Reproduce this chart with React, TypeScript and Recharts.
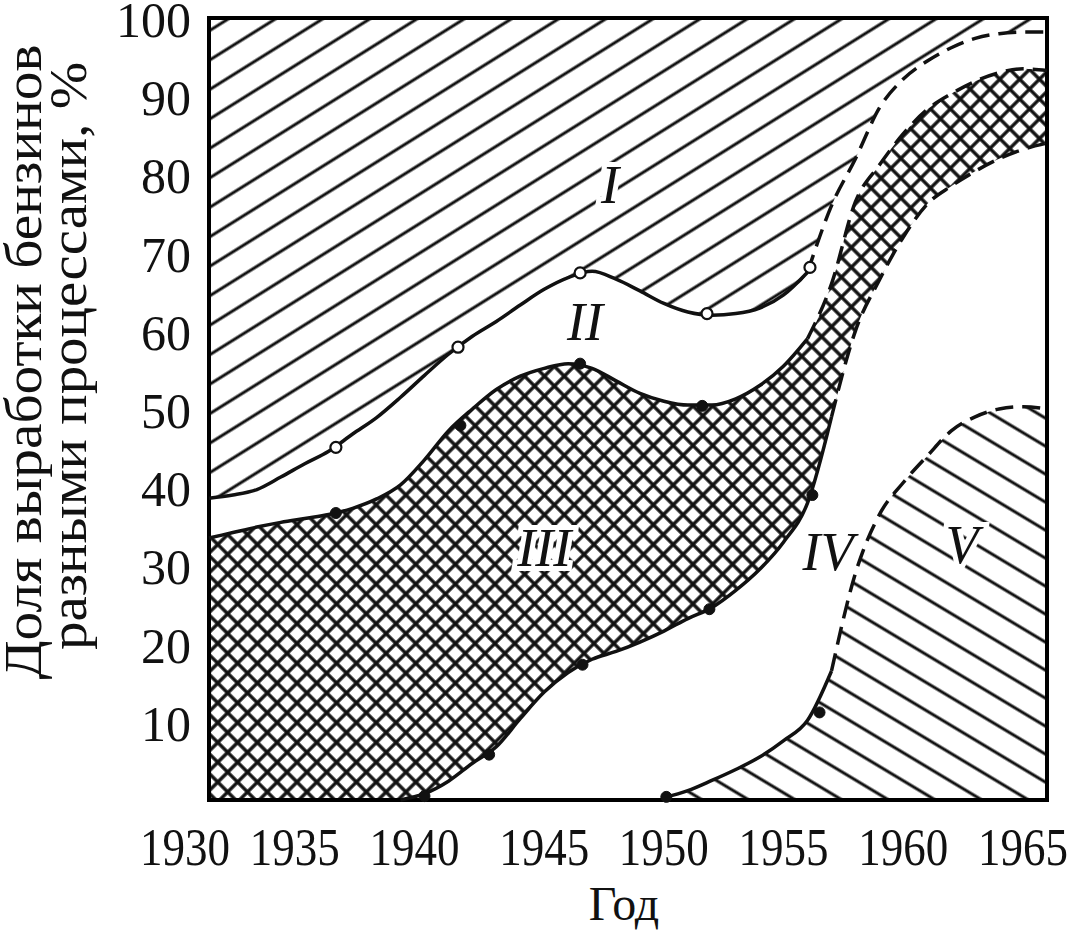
import {
  ComposedChart,
  Area,
  Line,
  Scatter,
  XAxis,
  YAxis,
  ReferenceArea,
  ReferenceDot,
} from "recharts";

// годы по оси X
const years = [
  1930, 1931, 1932, 1933, 1934, 1935, 1936, 1937, 1938, 1939, 1940, 1941,
  1942, 1943, 1944, 1945, 1946, 1947, 1948, 1949, 1950, 1951, 1952, 1953,
  1954, 1955, 1956, 1957, 1958, 1959, 1960, 1961, 1962, 1963, 1964, 1965,
];

// граница I / II
const curveA = [
  38.6, 39, 39.7, 41.3, 43, 44.6, 46.8, 48.9, 51.5, 54.3, 57, 59.3, 61.2,
  63.3, 65.3, 66.8, 67.6, 66.6, 65.1, 63.5, 62.4, 62, 62.2, 62.9, 64.6, 67.5,
  76, 82, 88.5, 92.2, 94.5, 96.2, 97.4, 98, 98.2, 98.2,
];
// граница II / III
const curveB = [
  33.5, 34.2, 34.9, 35.5, 36, 36.5, 37.3, 38.5, 40.3, 43.5, 47.2, 50, 52.5,
  54.2, 55.2, 55.8, 55.2, 53.6, 52, 51, 50.5, 50.5, 51.3, 53, 55.5, 59, 66,
  76.5, 81.2, 85.2, 88.3, 90.3, 91.9, 93, 93.5, 93.3,
];
// граница III / IV
const curveC = [
  0, 0, 0, 0, 0, 0, 0, 0, 0, 0.8, 2.4, 4.7, 6.8, 10.4, 13.8, 16.3, 18, 19,
  20.2, 21.6, 23.2, 24.6, 26.8, 29.5, 33, 38, 49, 60, 66.5, 72, 76.2, 78.5,
  80.4, 82, 83.2, 84,
];
// граница IV / V
const curveD = [
  0, 0, 0, 0, 0, 0, 0, 0, 0, 0, 0, 0, 0, 0, 0, 0, 0, 0, 0, 0.3, 1.2, 2.5,
  3.9, 5.5, 7.6, 10.2, 16.5, 29, 36.5, 40.6, 44, 47.2, 49, 50, 50.3, 50,
];

// точки на кривых
const markersA = [
  { year: 1935.3, value: 45.1 },
  { year: 1940.4, value: 57.9 },
  { year: 1945.5, value: 67.4 },
  { year: 1950.8, value: 62.2 },
  { year: 1955.1, value: 68.1 },
];
const markersB = [
  { year: 1935.3, value: 36.7 },
  { year: 1940.5, value: 47.9 },
  { year: 1945.5, value: 55.8 },
  { year: 1950.6, value: 50.4 },
];
const markersC = [
  { year: 1939.0, value: 0.5 },
  { year: 1941.7, value: 5.8 },
  { year: 1945.6, value: 17.3 },
  { year: 1950.9, value: 24.4 },
  { year: 1955.2, value: 39 },
];
const markersD = [
  { year: 1949.1, value: 0.4 },
  { year: 1955.5, value: 11.2 },
];

const regionLabels = [
  { text: "I", year: 1946.75, value: 78.6 },
  { text: "II", year: 1945.7, value: 61.1 },
  { text: "III", year: 1944.0, value: 32.2 },
  { text: "IV", year: 1955.85, value: 31.7 },
  { text: "V", year: 1961.45, value: 32.6 },
];

const xTicks = [1930, 1935, 1940, 1945, 1950, 1955, 1960, 1965];
const yTicks = [10, 20, 30, 40, 50, 60, 70, 80, 90, 100];

// где сплошная линия переходит в пунктир
const dashFromA = 1955;
const dashFromB = 1955;
const dashFromC = 1956;
const dashFromD = 1956;
const startC = 1938;
const startD = 1949;

const rows = years.map((year, i) => ({
  year,
  regionI: [curveA[i], 100],
  regionIII: [curveC[i], curveB[i]],
  regionV: [0, curveD[i]],
  aSolid: year <= dashFromA ? curveA[i] : null,
  aDash: year >= dashFromA ? curveA[i] : null,
  bSolid: year <= dashFromB ? curveB[i] : null,
  bDash: year >= dashFromB ? curveB[i] : null,
  cSolid: year >= startC && year <= dashFromC ? curveC[i] : null,
  cDash: year >= dashFromC ? curveC[i] : null,
  dSolid: year >= startD && year <= dashFromD ? curveD[i] : null,
  dDash: year >= dashFromD ? curveD[i] : null,
}));

const SERIF = "'Liberation Serif', 'Times New Roman', serif";
const INK = "#111";

// подписи на оси X в оригинале сдвинуты влево от делений
const XTick = ({ x, y, payload }: any) => {
  const early = payload.value === 1935 || payload.value === 1940;
  return (
    <text
      x={x - (early ? 34 : 24) - 45}
      y={y + 57}
      fontFamily={SERIF}
      fontSize={52}
      fill={INK}
      textLength={90}
      lengthAdjust="spacingAndGlyphs"
    >
      {payload.value}
    </text>
  );
};

const YTick = ({ x, y, payload }: any) => (
  <text
    x={x - 10}
    y={y + 19}
    textAnchor="end"
    fontFamily={SERIF}
    fontSize={50}
    fill={INK}
  >
    {payload.value}
  </text>
);

const YTitle = () => (
  <g fontFamily={SERIF} fontSize={53} fill={INK}>
    <text
      transform="translate(41, 362) rotate(-90)"
      textAnchor="middle"
      textLength={635}
      lengthAdjust="spacingAndGlyphs"
    >
      Доля выработки бензинов
    </text>
    <text
      transform="translate(86, 356) rotate(-90)"
      textAnchor="middle"
      textLength={588}
      lengthAdjust="spacingAndGlyphs"
    >
      разными процессами, %
    </text>
  </g>
);

const XTitle = () => (
  <text
    x={624}
    y={920}
    textAnchor="middle"
    fontFamily={SERIF}
    fontSize={48}
    fill={INK}
  >
    Год
  </text>
);

const OpenDot = ({ cx, cy }: any) => (
  <circle cx={cx} cy={cy} r={5.5} fill="#fff" stroke={INK} strokeWidth={2.2} />
);
const FilledDot = ({ cx, cy }: any) => (
  <circle cx={cx} cy={cy} r={5.5} fill={INK} stroke={INK} strokeWidth={1} />
);

const RomanLabel = (text: string) => (props: any) => {
  const { x, y } = props.viewBox;
  return (
    <text
      x={x}
      y={y}
      textAnchor="middle"
      dominantBaseline="central"
      fontFamily={SERIF}
      fontStyle="italic"
      fontSize={54}
      fill={INK}
      stroke="#fff"
      strokeWidth={10}
      paintOrder="stroke"
    >
      {text}
    </text>
  );
};

const App = () => {
  return (
    <div style={{ position: "absolute", left: 0, top: 0, background: "#fff" }}>
      <ComposedChart
        width={1082}
        height={931}
        data={rows}
        margin={{ top: 18, right: 35, bottom: 0, left: 0 }}
      >
        <defs>
          <pattern
            id="hatchI"
            patternUnits="userSpaceOnUse"
            width={25}
            height={25}
            patternTransform="rotate(-32)"
          >
            <line x1={0} y1={12} x2={25} y2={12} stroke={INK} strokeWidth={3} />
          </pattern>
          <pattern
            id="hatchV"
            patternUnits="userSpaceOnUse"
            width={24}
            height={24}
            patternTransform="rotate(31)"
          >
            <line x1={0} y1={12} x2={24} y2={12} stroke={INK} strokeWidth={3} />
          </pattern>
          <pattern
            id="cross"
            patternUnits="userSpaceOnUse"
            width={14}
            height={14}
            patternTransform="rotate(45)"
          >
            <line x1={0} y1={7} x2={14} y2={7} stroke={INK} strokeWidth={3.4} />
            <line x1={7} y1={0} x2={7} y2={14} stroke={INK} strokeWidth={3.4} />
          </pattern>
        </defs>

        <XAxis
          dataKey="year"
          type="number"
          domain={[1930, 1965]}
          ticks={xTicks}
          interval={0}
          axisLine={false}
          tickLine={false}
          height={131}
          tick={(p: any) => <XTick {...p} />}
          label={{ content: () => <XTitle /> }}
        />
        <YAxis
          type="number"
          domain={[0, 100]}
          ticks={yTicks}
          interval={0}
          axisLine={false}
          tickLine={false}
          width={209}
          tick={(p: any) => <YTick {...p} />}
          label={{ content: () => <YTitle /> }}
        />

        <Area
          type="monotone"
          dataKey="regionI"
          fill="url(#hatchI)"
          fillOpacity={1}
          stroke="none"
          isAnimationActive={false}
        />
        <Area
          type="monotone"
          dataKey="regionIII"
          fill="url(#cross)"
          fillOpacity={1}
          stroke="none"
          isAnimationActive={false}
        />
        <Area
          type="monotone"
          dataKey="regionV"
          fill="url(#hatchV)"
          fillOpacity={1}
          stroke="none"
          isAnimationActive={false}
        />

        <Line type="monotone" dataKey="aSolid" stroke={INK} strokeWidth={3.5} dot={false} isAnimationActive={false} />
        <Line type="monotone" dataKey="aDash" stroke={INK} strokeWidth={3.5} strokeDasharray="18 9" dot={false} isAnimationActive={false} />
        <Line type="monotone" dataKey="bSolid" stroke={INK} strokeWidth={3.5} dot={false} isAnimationActive={false} />
        <Line type="monotone" dataKey="bDash" stroke={INK} strokeWidth={3.5} strokeDasharray="18 9" dot={false} isAnimationActive={false} />
        <Line type="monotone" dataKey="cSolid" stroke={INK} strokeWidth={3.5} dot={false} isAnimationActive={false} />
        <Line type="monotone" dataKey="cDash" stroke={INK} strokeWidth={3.5} strokeDasharray="18 9" dot={false} isAnimationActive={false} />
        <Line type="monotone" dataKey="dSolid" stroke={INK} strokeWidth={3.5} dot={false} isAnimationActive={false} />
        <Line type="monotone" dataKey="dDash" stroke={INK} strokeWidth={3.5} strokeDasharray="18 9" dot={false} isAnimationActive={false} />

        <Scatter data={markersA} dataKey="value" shape={<OpenDot />} isAnimationActive={false} />
        <Scatter data={markersB} dataKey="value" shape={<FilledDot />} isAnimationActive={false} />
        <Scatter data={markersC} dataKey="value" shape={<FilledDot />} isAnimationActive={false} />
        <Scatter data={markersD} dataKey="value" shape={<FilledDot />} isAnimationActive={false} />

        {regionLabels.map((l) => (
          <ReferenceDot
            key={l.text}
            x={l.year}
            y={l.value}
            r={0}
            fill="none"
            stroke="none"
            label={{ content: RomanLabel(l.text) }}
          />
        ))}

        <ReferenceArea
          x1={1930}
          x2={1965}
          y1={0}
          y2={100}
          fill="none"
          stroke="#000"
          strokeWidth={4}
        />
      </ComposedChart>
    </div>
  );
};

export default App;
